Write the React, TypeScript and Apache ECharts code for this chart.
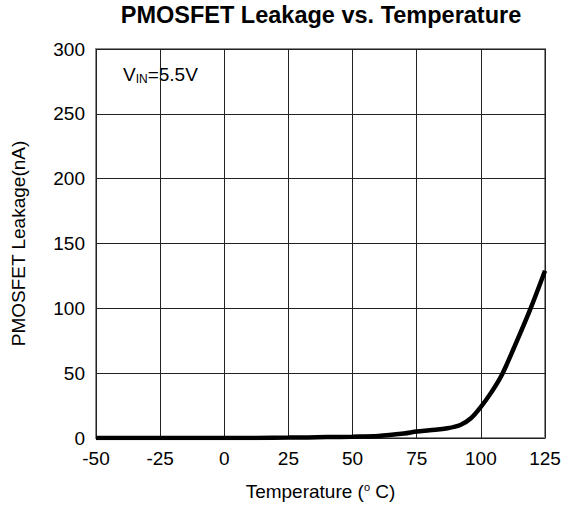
import React, { useEffect, useRef } from "react";
import * as echarts from "echarts";

const temperatures = [-50, -25, 0, 25, 40, 50, 60, 70, 75, 80, 87, 92, 96, 100, 104, 108, 113, 119, 125];
const leakage = [0, 0, 0, 0.3, 0.7, 1.0, 1.6, 3.5, 5.0, 6.0, 7.5, 10, 15, 24, 35, 48, 70, 98, 129];
const xTicks = { min: -50, max: 125, interval: 25 };
const yTicks = { min: 0, max: 300, interval: 50 };

const FONT = "Liberation Sans, Arial, sans-serif";

export default function App() {
  const ref = useRef<HTMLDivElement>(null);
  useEffect(() => {
    if (!ref.current) return;
    const chart = echarts.init(ref.current, undefined, { renderer: "svg" });
    const data = temperatures.map((t, i) => [t, leakage[i]]);
    chart.setOption({
      animation: false,
      backgroundColor: "#fff",
      title: {
        text: "PMOSFET Leakage vs. Temperature",
        left: 321,
        textAlign: "center",
        top: 3,
        padding: 0,
        textStyle: { fontFamily: FONT, fontSize: 23.5, fontWeight: "bold", color: "#000", lineHeight: 24 },
      },
      grid: {
        left: 96,
        right: 23,
        top: 49,
        bottom: 70,
        outerBoundsMode: "none",
        containLabel: false,
        show: true,
        borderColor: "#8a8a8a",
        borderWidth: 2,
      },
      xAxis: {
        type: "value",
        min: xTicks.min,
        max: xTicks.max,
        interval: xTicks.interval,
        name: "Temperature ({o|o} C)",
        nameLocation: "middle",
        nameGap: 43,
        nameTextStyle: {
          fontFamily: FONT,
          fontSize: 19,
          color: "#000",
          rich: {
            o: { fontFamily: FONT, fontSize: 11, color: "#000", padding: [0, 0, 10, 0] },
          },
        },
        axisLine: { show: false },
        axisTick: { show: false },
        axisLabel: { fontFamily: FONT, fontSize: 19, color: "#000", margin: 11 },
        splitLine: { show: true, lineStyle: { color: "#222", width: 1 } },
      },
      yAxis: {
        type: "value",
        min: yTicks.min,
        max: yTicks.max,
        interval: yTicks.interval,
        name: "PMOSFET Leakage(nA)",
        nameLocation: "middle",
        nameGap: 68,
        nameTextStyle: { fontFamily: FONT, fontSize: 19, color: "#000" },
        axisLine: { show: false },
        axisTick: { show: false },
        axisLabel: { fontFamily: FONT, fontSize: 19, color: "#000", margin: 11 },
        splitLine: { show: true, lineStyle: { color: "#222", width: 1 } },
      },
      graphic: [
        {
          type: "text",
          left: 123,
          top: 63,
          style: {
            text: "{a|V}{s|IN}{a|=5.5V}",
            rich: {
              a: { fontFamily: FONT, fontSize: 19, color: "#000", lineHeight: 22 },
              s: { fontFamily: FONT, fontSize: 12, color: "#000", padding: [10, 0, 0, 0], lineHeight: 22 },
            },
          },
        },
      ],
      series: [
        {
          type: "line",
          data,
          smooth: 0.35,
          showSymbol: false,
          lineStyle: { color: "#000", width: 4.5 },
        },
      ],
    });
    return () => chart.dispose();
  }, []);
  return <div ref={ref} style={{ position: "fixed", left: 0, top: 0, width: 568, height: 508 }} />;
}
